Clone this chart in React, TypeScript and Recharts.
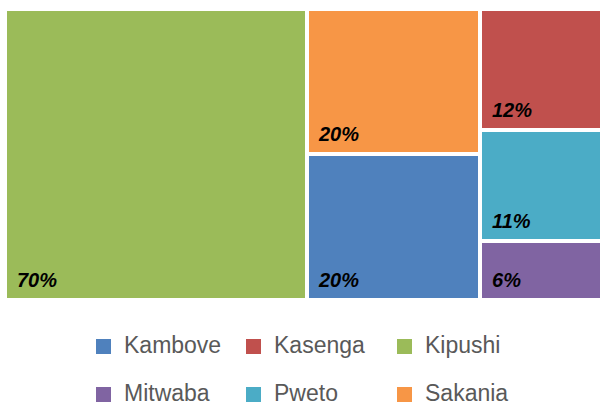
import React from "react";
import { Treemap } from "recharts";

// order matters: squarify lays tiles out in this order
const districts = ["Kipushi", "Sakania", "Kambove", "Kasenga", "Pweto", "Mitwaba"];
const shares = [70, 20, 20, 12, 11, 6];
const colors = ["#9BBB59", "#F79646", "#4F81BD", "#C0504D", "#4BACC6", "#8064A2"];

const data = districts.map((name, i) => ({ name, size: shares[i], color: colors[i] }));
const legendItems = [...data].sort((a, b) => a.name.localeCompare(b.name));

const FONT = "'Liberation Sans', Arial, sans-serif";

const Tile = (props: any) => {
    const { x, y, width, height, depth, color, value } = props;
    if (depth !== 1) return null;
    return (
        <g>
            <rect x={x} y={y} width={width} height={height} fill={color} stroke="#fff" strokeWidth={4} />
            <text
                x={x + 12}
                y={y + height - 13}
                fill="#000"
                fontSize={20}
                fontWeight="bold"
                fontStyle="italic"
                fontFamily={FONT}
            >
                {value}%
            </text>
        </g>
    );
};

const legendCols = [96, 246, 397];
const legendRows = [339, 387];

const App = () => {
    return (
        <div
            style={{
                position: "absolute",
                left: 0,
                top: 0,
                width: 600,
                height: 406,
                overflow: "hidden",
                background: "#fff",
                fontFamily: FONT,
            }}
        >
            <div style={{ position: "absolute", left: 5, top: 9 }}>
                <Treemap
                    width={600}
                    height={291}
                    data={data}
                    dataKey="size"
                    nameKey="name"
                    content={<Tile />}
                    isAnimationActive={false}
                />
            </div>
            {legendItems.map((item, i) => {
                const left = legendCols[i % 3];
                const top = legendRows[Math.floor(i / 3)];
                return (
                    <div key={item.name} style={{ position: "absolute", left, top }}>
                        <div
                            style={{
                                position: "absolute",
                                left: 0,
                                top: 0,
                                width: 15,
                                height: 15,
                                background: item.color,
                            }}
                        />
                        <span
                            style={{
                                position: "absolute",
                                left: 28,
                                top: -5,
                                fontSize: 23,
                                lineHeight: "23px",
                                color: "#595959",
                                whiteSpace: "nowrap",
                            }}
                        >
                            {item.name}
                        </span>
                    </div>
                );
            })}
        </div>
    );
};

export default App;
